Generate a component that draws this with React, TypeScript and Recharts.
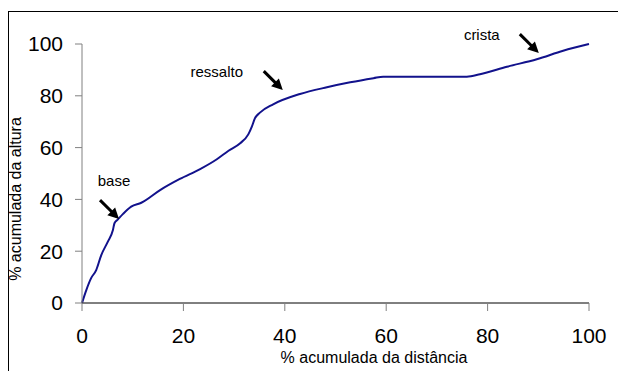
import { LineChart, Line, XAxis, YAxis, ReferenceDot } from "recharts";

const distancia = [
  0, 0.85, 1.8, 2.8, 3.8, 5.1, 6.1, 6.4, 7.1, 8.1, 9.7, 11.7, 15.4, 19.3, 23.3,
  26.6, 28.9, 31.2, 32.8, 33.5, 34.1, 35.1, 37.7, 43, 48.3, 52.9, 57.5, 59.4,
  75.9, 78.5, 83.8, 89.7, 94.9, 100,
];
const altura = [
  0, 5, 9.6, 12.7, 18.5, 23.7, 28.2, 30.8, 32.3, 34.4, 37.2, 38.7, 43.6, 47.9,
  51.7, 55.5, 58.8, 61.7, 65.1, 68.1, 71.3, 73.5, 76.7, 80.7, 83.3, 85.2, 86.8,
  87.4, 87.4, 88.3, 91.2, 94.1, 97.4, 100,
];
const ticks = [0, 20, 40, 60, 80, 100];

// arrow tips in data units, text offset (px) from the tip
const notes = [
  { label: "base", x: 7.3, y: 32.4, dx: -5, dy: -39 },
  { label: "ressalto", x: 39.6, y: 82.2, dx: -66, dy: -19 },
  { label: "crista", x: 90.1, y: 96.5, dx: -57, dy: -19 },
];

const data = distancia.map((d, i) => ({ d, a: altura[i] }));
const FONT = '"Liberation Sans", Arial, sans-serif';

function Arrow({ cx, cy, label, dx, dy }: any) {
  const u = Math.SQRT1_2;
  const head = 11;
  const bx = cx - head * u;
  const by = cy - head * u;
  const w = 5.5;
  return (
    <g>
      <line x1={cx - 19} y1={cy - 19} x2={bx + 1} y2={by + 1} stroke="#000" strokeWidth={3} />
      <polygon
        points={`${cx},${cy} ${bx - w * u},${by + w * u} ${bx + w * u},${by - w * u}`}
        fill="#000"
      />
      <text
        x={cx + dx}
        y={cy + dy}
        textAnchor="middle"
        dominantBaseline="central"
        fontSize={15}
        fontFamily={FONT}
        fill="#000"
      >
        {label}
      </text>
    </g>
  );
}

export default function App() {
  return (
    <div style={{ position: "absolute", left: 0, top: 0, width: 618, height: 371, background: "#fff", overflow: "hidden" }}>
      <div
        style={{
          position: "absolute",
          left: 8,
          top: 11,
          width: 640,
          height: 400,
          border: "1px solid #000",
          boxSizing: "border-box",
        }}
      />
      <LineChart
        width={618}
        height={371}
        data={data}
        margin={{ top: 44, right: 29, bottom: 28, left: 22 }}
        style={{ position: "absolute", left: 0, top: 0 }}
      >
        <XAxis
          dataKey="d"
          type="number"
          domain={[0, 100]}
          ticks={ticks}
          height={40}
          tickSize={8}
          tickMargin={17}
          axisLine={{ stroke: "#000", strokeWidth: 1 }}
          tickLine={{ stroke: "#808080" }}
          tick={{ fontSize: 21, fill: "#000", fontFamily: FONT }}
        />
        <YAxis
          type="number"
          domain={[0, 100]}
          ticks={ticks}
          width={60}
          tickSize={7}
          tickMargin={12}
          axisLine={{ stroke: "#808080", strokeWidth: 1 }}
          tickLine={{ stroke: "#808080" }}
          tick={{ fontSize: 21, fill: "#000", fontFamily: FONT }}
        />
        <Line
          dataKey="a"
          type="monotone"
          stroke="#12128c"
          strokeWidth={2}
          dot={false}
          isAnimationActive={false}
        />
        {notes.map((n) => (
          <ReferenceDot
            key={n.label}
            x={n.x}
            y={n.y}
            r={0}
            shape={(p: any) => <Arrow cx={p.cx} cy={p.cy} label={n.label} dx={n.dx} dy={n.dy} />}
          />
        ))}
      </LineChart>
      <svg width={618} height={371} style={{ position: "absolute", left: 0, top: 0, pointerEvents: "none" }}>
        <text x={374} y={363} textAnchor="middle" fontSize={16} fontFamily={FONT} fill="#000">
          % acumulada da distância
        </text>
        <text
          x={15}
          y={199}
          transform="rotate(-90 15 199)"
          textAnchor="middle"
          dominantBaseline="central"
          fontSize={16}
          fontFamily={FONT}
          fill="#000"
        >
          % acumulada da altura
        </text>
      </svg>
    </div>
  );
}
